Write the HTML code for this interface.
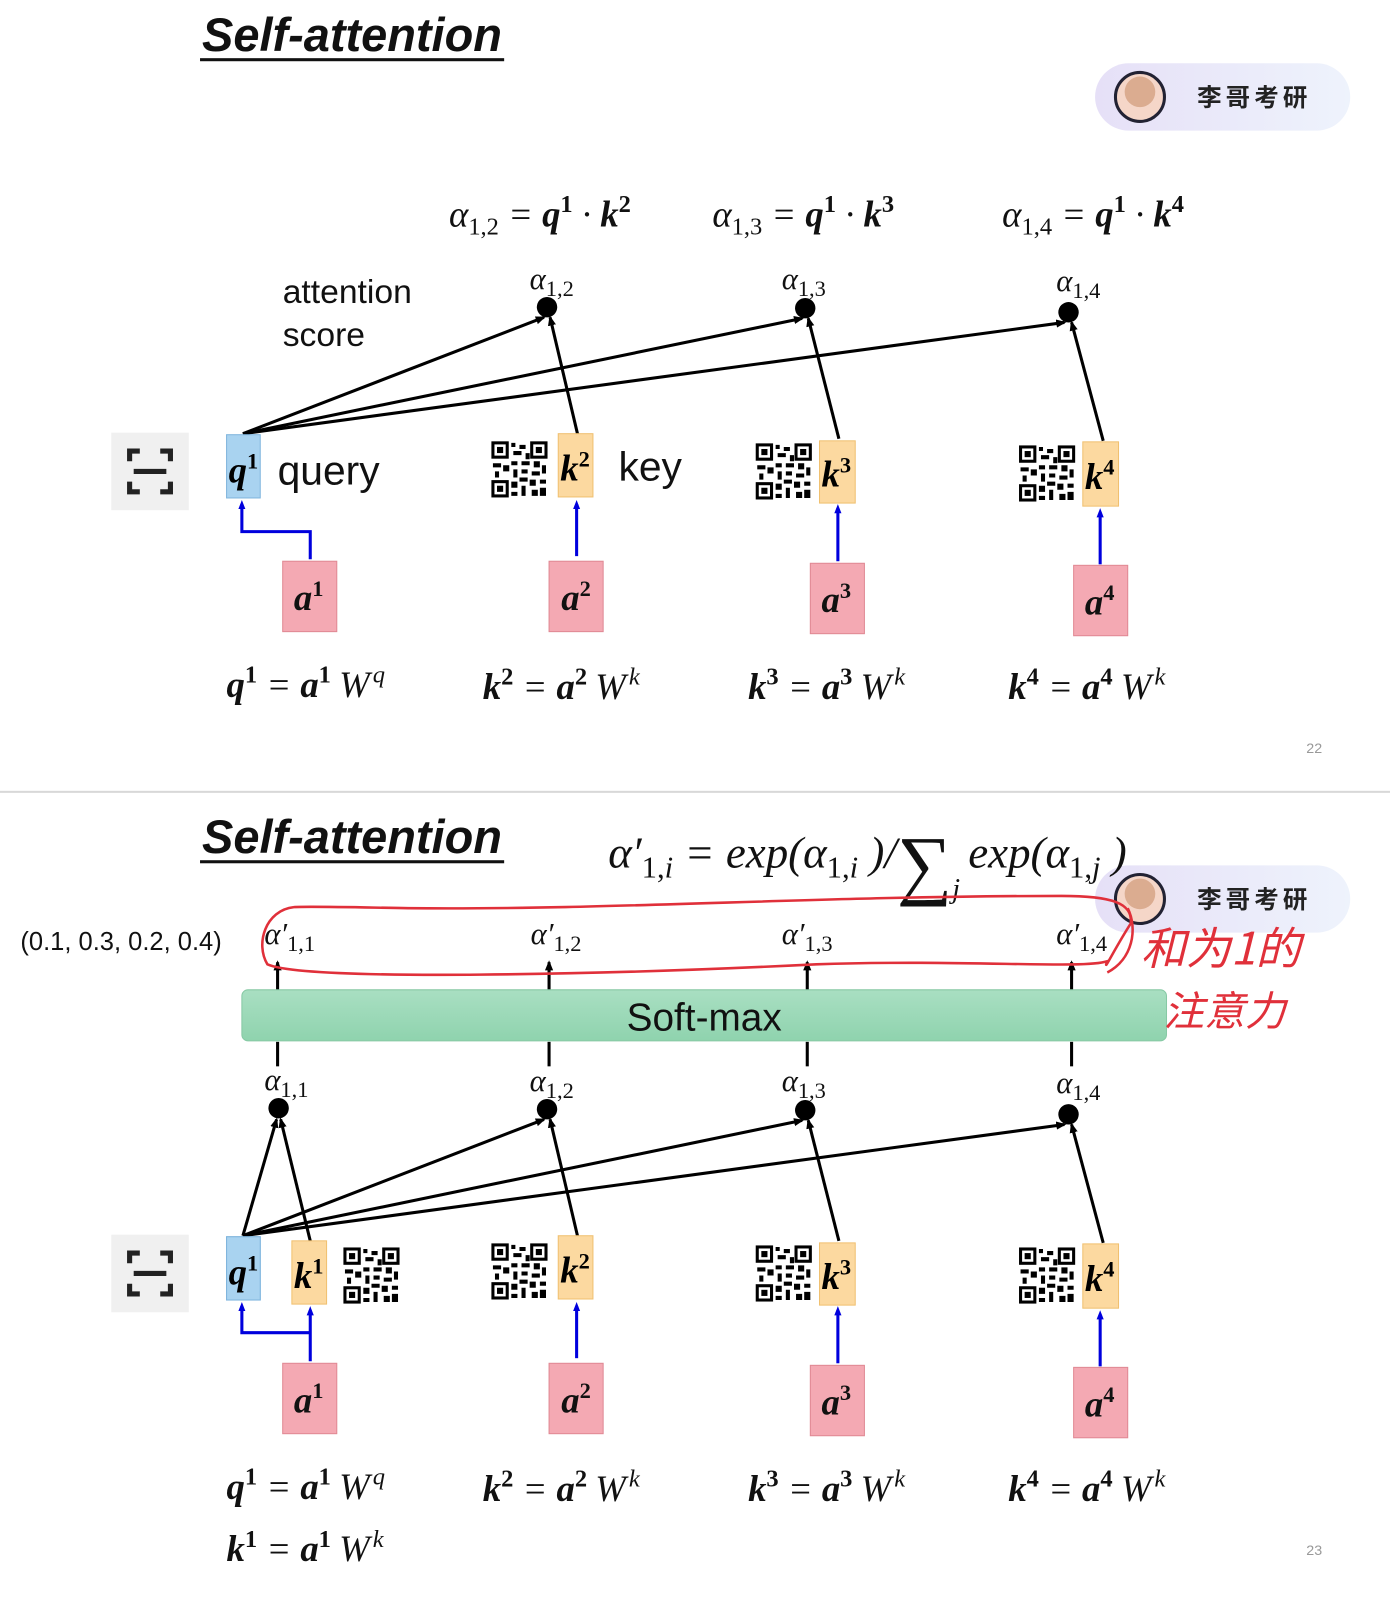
<!DOCTYPE html>
<html><head><meta charset="utf-8"><style>
html,body{margin:0;padding:0;background:#fff;}
svg{display:block;}
.t{font-family:"Liberation Sans",sans-serif;}
.m{font-family:"Liberation Serif",serif;font-style:italic;}
.b{font-weight:bold;}
</style></head><body>
<svg width="1390" height="1599" viewBox="0 0 1362 1567" preserveAspectRatio="none" xmlns="http://www.w3.org/2000/svg">
<defs>
<linearGradient id="pill" x1="0" x2="1"><stop offset="0" stop-color="#e6e0f7"/><stop offset="1" stop-color="#eef3fc"/></linearGradient>
<linearGradient id="sm" x1="0" x2="0" y1="0" y2="1"><stop offset="0" stop-color="#a9dfc2"/><stop offset="1" stop-color="#8fd3ae"/></linearGradient>
<marker id="ab" markerUnits="userSpaceOnUse" markerWidth="10" markerHeight="10" refX="5" refY="5" orient="auto"><path d="M0,1.5 L9,5 L0,8.5 z" fill="#0000dd"/></marker>
<marker id="ak" markerUnits="userSpaceOnUse" markerWidth="12" markerHeight="12" refX="8" refY="6" orient="auto"><path d="M0,2 L10,6 L0,10 z" fill="#000"/></marker>
<g id="qr">
<rect x="0" y="0" width="56" height="56" fill="#fff"/>
<rect x="2" y="2" width="14" height="14" fill="none" stroke="#000" stroke-width="3"/><rect x="6" y="6" width="6" height="6"/>
<rect x="40" y="2" width="14" height="14" fill="none" stroke="#000" stroke-width="3"/><rect x="44" y="6" width="6" height="6"/>
<rect x="2" y="40" width="14" height="14" fill="none" stroke="#000" stroke-width="3"/><rect x="6" y="44" width="6" height="6"/>
<path d="M20 2h4v4h-4zM28 4h6v4h-6zM22 10h8v4h-8zM34 12h4v6h-4zM20 20h6v4h-6zM30 20h8v4h-8zM2 22h8v4h-8zM12 24h6v6h-6zM42 20h6v6h-6zM50 24h4v8h-4zM22 28h4v8h-4zM30 28h6v4h-6zM40 30h8v4h-8zM4 30h4v6h-4zM28 36h8v4h-8zM20 40h6v6h-6zM38 38h6v6h-6zM48 38h6v4h-6zM30 44h4v10h-4zM40 48h6v6h-6zM20 50h6v4h-6zM48 46h6v8h-6z"/>
</g>
<g id="scan">
<rect x="0" y="0" width="76" height="76" fill="#f0f0f0"/>
<path d="M18 28v-10h10M48 18h10v10M18 48v10h10M48 58h10v-10" fill="none" stroke="#222" stroke-width="5"/>
<path d="M22 38h32" stroke="#222" stroke-width="5"/>
</g>
<g id="pillg">
<rect x="0" y="0" width="250" height="66" rx="33" fill="url(#pill)"/>
<circle cx="44" cy="33" r="24" fill="#f5d6c8" stroke="#223" stroke-width="3"/>
<circle cx="44" cy="28" r="15" fill="#c98f6b" opacity="0.6"/>
<text x="100" y="42" font-family="Noto Sans CJK SC,sans-serif" font-size="24" font-weight="bold" fill="#222" letter-spacing="4">李哥考研</text>
</g>
</defs>

<!-- TOP PANEL -->
<text x="198" y="50" class="t b" font-style="italic" font-size="46" fill="#111">Self-attention</text>
<rect x="196" y="57" width="298" height="3" fill="#111"/>
<use href="#pillg" x="1073" y="62"/>

<g class="m" font-size="36" fill="#111">
<text x="440" y="222">α<tspan font-size="24" dy="8" font-style="normal">1,2</tspan><tspan dy="-8"> = </tspan><tspan font-weight="bold">q</tspan><tspan font-size="24" dy="-14" font-weight="bold" font-style="normal">1</tspan><tspan dy="14"> · </tspan><tspan font-weight="bold">k</tspan><tspan font-size="24" dy="-14" font-weight="bold" font-style="normal">2</tspan></text>
<text x="698" y="222">α<tspan font-size="24" dy="8" font-style="normal">1,3</tspan><tspan dy="-8"> = </tspan><tspan font-weight="bold">q</tspan><tspan font-size="24" dy="-14" font-weight="bold" font-style="normal">1</tspan><tspan dy="14"> · </tspan><tspan font-weight="bold">k</tspan><tspan font-size="24" dy="-14" font-weight="bold" font-style="normal">3</tspan></text>
<text x="982" y="222">α<tspan font-size="24" dy="8" font-style="normal">1,4</tspan><tspan dy="-8"> = </tspan><tspan font-weight="bold">q</tspan><tspan font-size="24" dy="-14" font-weight="bold" font-style="normal">1</tspan><tspan dy="14"> · </tspan><tspan font-weight="bold">k</tspan><tspan font-size="24" dy="-14" font-weight="bold" font-style="normal">4</tspan></text>
</g>
<text x="277" y="297" class="t" font-size="33" fill="#111">attention</text>
<text x="277" y="339" class="t" font-size="33" fill="#111">score</text>

<g id="panel">
<g class="m" font-size="30" fill="#111">
<text x="519" y="283">α<tspan font-size="22" dy="7" font-style="normal">1,2</tspan></text>
<text x="766" y="283">α<tspan font-size="22" dy="7" font-style="normal">1,3</tspan></text>
<text x="1035" y="285">α<tspan font-size="22" dy="7" font-style="normal">1,4</tspan></text>
</g>
<g stroke="#000" stroke-width="3" marker-end="url(#ak)">
<line x1="238" y1="425" x2="533" y2="311"/>
<line x1="238" y1="425" x2="786" y2="312"/>
<line x1="238" y1="425" x2="1043" y2="316"/>
<line x1="567" y1="430" x2="539" y2="311"/>
<line x1="822" y1="430" x2="792" y2="312"/>
<line x1="1081" y1="432" x2="1050" y2="316"/>
</g>
<circle cx="536" cy="301" r="10"/><circle cx="789" cy="302" r="10"/><circle cx="1047" cy="306" r="10"/>

<use href="#scan" x="109" y="424"/>
<rect x="222" y="426" width="33" height="62" fill="#a9d3f0" stroke="#7fb5dd"/>
<text x="224" y="473" class="m b" font-size="36">q<tspan font-size="22" dy="-14" font-style="normal">1</tspan></text>

<use href="#qr" x="481" y="432"/>
<rect x="547" y="425" width="34" height="62" fill="#fcd9a0" stroke="#f0c070"/>
<text x="549" y="471" class="m b" font-size="36">k<tspan font-size="22" dy="-14" font-style="normal">2</tspan></text>
<use href="#qr" x="740" y="434"/>
<rect x="803" y="432" width="35" height="61" fill="#fcd9a0" stroke="#f0c070"/>
<text x="805" y="477" class="m b" font-size="36">k<tspan font-size="22" dy="-14" font-style="normal">3</tspan></text>
<use href="#qr" x="998" y="436"/>
<rect x="1061" y="433" width="35" height="63" fill="#fcd9a0" stroke="#f0c070"/>
<text x="1063" y="479" class="m b" font-size="36">k<tspan font-size="22" dy="-14" font-style="normal">4</tspan></text>

<g fill="none" stroke="#0000dd" stroke-width="3" marker-end="url(#ab)">
<path d="M565 545V494"/>
<path d="M821 550V498"/>
<path d="M1078 553V502"/>
</g>
<g class="m b" font-size="36" fill="#111">
<rect x="277" y="550" width="53" height="69" fill="#f4a9b3" stroke="#e08893"/>
<text x="288" y="598">a<tspan font-size="22" dy="-14" font-style="normal">1</tspan></text>
<rect x="538" y="550" width="53" height="69" fill="#f4a9b3" stroke="#e08893"/>
<text x="550" y="598">a<tspan font-size="22" dy="-14" font-style="normal">2</tspan></text>
<rect x="794" y="552" width="53" height="69" fill="#f4a9b3" stroke="#e08893"/>
<text x="805" y="600">a<tspan font-size="22" dy="-14" font-style="normal">3</tspan></text>
<rect x="1052" y="554" width="53" height="69" fill="#f4a9b3" stroke="#e08893"/>
<text x="1063" y="602">a<tspan font-size="22" dy="-14" font-style="normal">4</tspan></text>
</g>
<g class="m" font-size="36" fill="#111">
<text x="222" y="683"><tspan font-weight="bold">q</tspan><tspan font-size="24" dy="-14" font-weight="bold" font-style="normal">1</tspan><tspan dy="14"> = </tspan><tspan font-weight="bold">a</tspan><tspan font-size="24" dy="-14" font-weight="bold" font-style="normal">1</tspan><tspan dy="14" dx="8">W</tspan><tspan font-size="24" dy="-14" dx="3">q</tspan></text>
<text x="473" y="685"><tspan font-weight="bold">k</tspan><tspan font-size="24" dy="-14" font-weight="bold" font-style="normal">2</tspan><tspan dy="14"> = </tspan><tspan font-weight="bold">a</tspan><tspan font-size="24" dy="-14" font-weight="bold" font-style="normal">2</tspan><tspan dy="14" dx="8">W</tspan><tspan font-size="24" dy="-14" dx="3">k</tspan></text>
<text x="733" y="685"><tspan font-weight="bold">k</tspan><tspan font-size="24" dy="-14" font-weight="bold" font-style="normal">3</tspan><tspan dy="14"> = </tspan><tspan font-weight="bold">a</tspan><tspan font-size="24" dy="-14" font-weight="bold" font-style="normal">3</tspan><tspan dy="14" dx="8">W</tspan><tspan font-size="24" dy="-14" dx="3">k</tspan></text>
<text x="988" y="685"><tspan font-weight="bold">k</tspan><tspan font-size="24" dy="-14" font-weight="bold" font-style="normal">4</tspan><tspan dy="14"> = </tspan><tspan font-weight="bold">a</tspan><tspan font-size="24" dy="-14" font-weight="bold" font-style="normal">4</tspan><tspan dy="14" dx="8">W</tspan><tspan font-size="24" dy="-14" dx="3">k</tspan></text>
</g>
</g>
<text x="606" y="471" class="t" font-size="40" fill="#111">key</text>
<text x="272" y="475" class="t" font-size="40" fill="#111">query</text>
<path d="M304 548V521H237V494" fill="none" stroke="#0000dd" stroke-width="3" marker-end="url(#ab)"/>
<text x="1280" y="738" class="t" font-size="14" fill="#999">22</text>

<rect x="0" y="775" width="1362" height="2" fill="#d8d8d8"/>

<!-- BOTTOM PANEL -->
<text x="198" y="836" class="t b" font-style="italic" font-size="46" fill="#111">Self-attention</text>
<rect x="196" y="843" width="298" height="3" fill="#111"/>
<use href="#pillg" x="1073" y="848"/>
<text x="596" y="850" class="m" font-size="44" fill="#111">α′<tspan font-size="30" dy="10" font-style="normal">1,</tspan><tspan font-size="30">i</tspan><tspan dy="-10"> = exp(α</tspan><tspan font-size="30" dy="10" font-style="normal">1,</tspan><tspan font-size="30">i</tspan><tspan dy="-10"> )/</tspan><tspan font-style="normal" font-size="76" dy="22">∑</tspan><tspan font-size="28" dy="8">j</tspan><tspan dy="-30" dx="8">exp(α</tspan><tspan font-size="30" dy="10" font-style="normal">1,</tspan><tspan font-size="30">j</tspan><tspan dy="-10"> )</tspan></text>
<text x="20" y="931" class="t" font-size="25" fill="#111">(0.1, 0.3, 0.2, 0.4)</text>
<g class="m" font-size="30" fill="#111">
<text x="259" y="925">α′<tspan font-size="22" dy="7" font-style="normal">1,1</tspan></text>
<text x="520" y="925">α′<tspan font-size="22" dy="7" font-style="normal">1,2</tspan></text>
<text x="766" y="925">α′<tspan font-size="22" dy="7" font-style="normal">1,3</tspan></text>
<text x="1035" y="925">α′<tspan font-size="22" dy="7" font-style="normal">1,4</tspan></text>
<text x="259" y="1068">α<tspan font-size="22" dy="7" font-style="normal">1,1</tspan></text>
</g>
<g stroke="#000" stroke-width="3" marker-end="url(#ak)">
<line x1="272" y1="970" x2="272" y2="943"/>
<line x1="538" y1="970" x2="538" y2="943"/>
<line x1="791" y1="970" x2="791" y2="943"/>
<line x1="1050" y1="970" x2="1050" y2="943"/>
</g>
<g stroke="#000" stroke-width="3">
<line x1="272" y1="1021" x2="272" y2="1045"/>
<line x1="538" y1="1021" x2="538" y2="1045"/>
<line x1="791" y1="1021" x2="791" y2="1045"/>
<line x1="1050" y1="1021" x2="1050" y2="1045"/>
</g>
<rect x="237" y="970" width="906" height="50" rx="6" fill="url(#sm)" stroke="#86c9a4"/>
<text x="690" y="1010" class="t" font-size="38" text-anchor="middle" fill="#111">Soft-max</text>

<g transform="translate(0,786)">
<use href="#panel"/>
<g stroke="#000" stroke-width="3" marker-end="url(#ak)">
<line x1="238" y1="425" x2="271" y2="311"/>
<line x1="304" y1="430" x2="275" y2="311"/>
</g>
<circle cx="273" cy="300" r="10"/>
<rect x="286" y="430" width="34" height="62" fill="#fcd9a0" stroke="#f0c070"/>
<text x="288" y="476" class="m b" font-size="36">k<tspan font-size="22" dy="-14" font-style="normal">1</tspan></text>
<use href="#qr" x="336" y="436"/>
<rect x="222" y="426" width="33" height="62" fill="#a9d3f0" stroke="#7fb5dd"/>
<text x="224" y="473" class="m b" font-size="36">q<tspan font-size="22" dy="-14" font-style="normal">1</tspan></text>
<g fill="none" stroke="#0000dd" stroke-width="3" marker-end="url(#ab)">
<path d="M304 548V498"/>
<path d="M304 520H237V494"/>
</g>
<text x="222" y="744" class="m" font-size="36" fill="#111"><tspan font-weight="bold">k</tspan><tspan font-size="24" dy="-14" font-weight="bold" font-style="normal">1</tspan><tspan dy="14"> = </tspan><tspan font-weight="bold">a</tspan><tspan font-size="24" dy="-14" font-weight="bold" font-style="normal">1</tspan><tspan dy="14" dx="8">W</tspan><tspan font-size="24" dy="-14" dx="3">k</tspan></text>
</g>
<text x="1280" y="1524" class="t" font-size="14" fill="#999">23</text>

<!-- red annotation -->
<path d="M288 889 C260 892 250 925 262 945 C300 962 600 955 800 945 C950 940 1060 950 1085 942 C1080 955 1092 930 1108 905 C1110 885 1090 878 1040 878 C800 878 600 892 400 890 C340 889 300 888 288 889" fill="none" stroke="#e0303a" stroke-width="2.5"/>
<path d="M1105 890 C1115 910 1110 940 1085 953" fill="none" stroke="#e0303a" stroke-width="2.5"/>
<text x="1118" y="945" font-family="Noto Sans CJK SC,sans-serif" font-size="44" fill="#e0303a" font-style="italic">和为1的</text>
<text x="1140" y="1005" font-family="Noto Sans CJK SC,sans-serif" font-size="40" fill="#e0303a" font-style="italic">注意力</text>
</svg>
</body></html>
